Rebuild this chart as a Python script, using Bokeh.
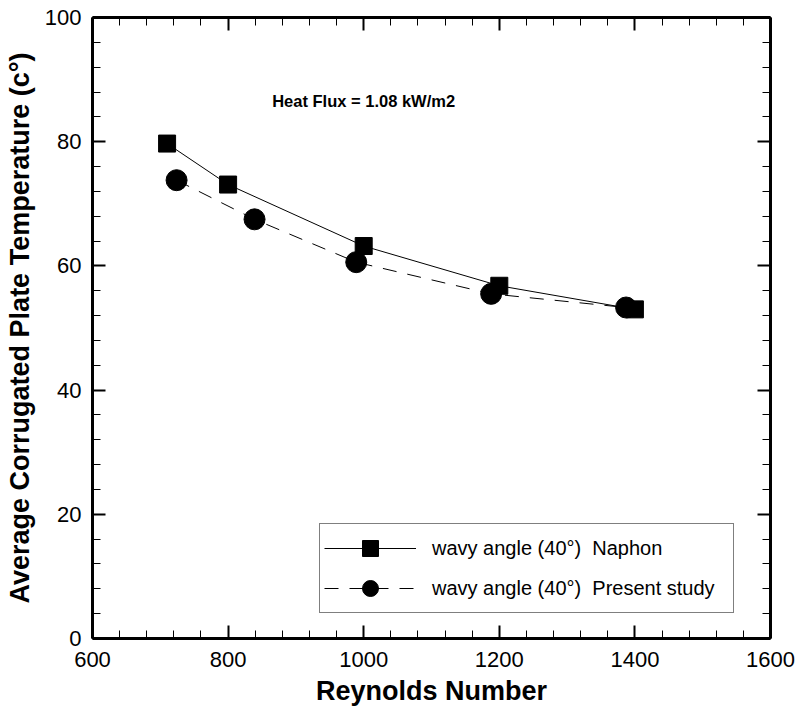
from bokeh.plotting import figure
from bokeh.models import (LinearAxis, SingleIntervalTicker, Range1d, Legend, LegendItem,
                          Label, CustomJSTickFormatter)
from bokeh.embed import file_html
from bokeh.resources import INLINE

# ---- data ----
naphon_re = [710, 800, 1000, 1200, 1400]
naphon_temp = [79.7, 73.1, 63.2, 56.8, 53.0]
present_re = [724, 839, 989, 1188, 1387]
present_temp = [73.8, 67.5, 60.6, 55.5, 53.3]

series_labels = ["wavy angle (40°)  Naphon", "wavy angle (40°)  Present study"]
x_title = "Reynolds Number"
y_title = "Average Corrugated Plate Temperature (c°)"
note_text = "Heat Flux = 1.08 kW/m2"
note_x, note_y = 865, 86.6

FONT = "Liberation Sans"

p = figure(width=801, height=716, output_backend="svg", toolbar_location=None,
           x_range=Range1d(600, 1600), y_range=Range1d(0, 100),
           min_border_left=92, min_border_right=31, min_border_top=17, min_border_bottom=78)
p.outline_line_color = None
p.grid.visible = False
p.background_fill_color = "white"
p.border_fill_color = "white"

xt = SingleIntervalTicker(interval=200, num_minor_ticks=5)
yt = SingleIntervalTicker(interval=20, num_minor_ticks=5)

def style_axis(ax):
    ax.axis_line_width = 3
    ax.axis_line_color = "black"
    ax.major_tick_in = 13
    ax.major_tick_out = 0
    ax.minor_tick_in = 8
    ax.minor_tick_out = 0
    ax.major_tick_line_width = 2
    ax.major_tick_line_color = "black"
    ax.minor_tick_line_width = 1
    ax.minor_tick_line_color = "black"
    ax.major_label_text_font = FONT
    ax.major_label_text_font_size = "22px"
    ax.major_label_text_color = "black"
    ax.axis_label_text_font = FONT
    ax.axis_label_text_font_size = "27px"
    ax.axis_label_text_font_style = "bold"
    ax.axis_label_text_color = "black"

xa = p.xaxis[0]
xa.ticker = xt
style_axis(xa)
xa.major_label_standoff = 13
xa.axis_label = x_title
xa.axis_label_standoff = 6

ya = p.yaxis[0]
ya.ticker = yt
style_axis(ya)
ya.major_label_standoff = 11
ya.axis_label = y_title
ya.axis_label_standoff = 7

blank = CustomJSTickFormatter(code="return ''")
top = LinearAxis(ticker=SingleIntervalTicker(interval=200, num_minor_ticks=5), formatter=blank)
style_axis(top)
top.major_label_text_font_size = "1px"
top.major_label_standoff = 0
p.add_layout(top, "above")
right = LinearAxis(ticker=SingleIntervalTicker(interval=20, num_minor_ticks=5), formatter=blank)
style_axis(right)
right.major_label_text_font_size = "1px"
right.major_label_standoff = 0
p.add_layout(right, "right")

l1 = p.line(naphon_re, naphon_temp, line_color="black", line_width=1)
l2 = p.line(present_re, present_temp, line_color="black", line_width=1, line_dash="14 11")
s1 = p.scatter(naphon_re, naphon_temp, marker="square", size=17, fill_color="black", line_color="black")
s2 = p.scatter(present_re, present_temp, marker="circle", size=21, fill_color="black", line_color="black")

legend = Legend(items=[LegendItem(label=series_labels[0], renderers=[l1, s1]),
                       LegendItem(label=series_labels[1], renderers=[l2, s2])],
                location=(227, 25), margin=0, padding=4, spacing=0,
                glyph_width=92, glyph_height=40, label_standoff=16, label_width=297,
                label_text_font=FONT, label_text_font_size="20px", label_text_color="black",
                border_line_color="black", border_line_width=1,
                background_fill_color="white", background_fill_alpha=1.0)
p.add_layout(legend, "center")

p.add_layout(Label(x=note_x, y=note_y, text=note_text, text_font=FONT, text_font_size="16.5px",
                   text_font_style="bold", text_baseline="middle", text_color="black"))

open("out.html", "w").write(file_html(p, INLINE))
